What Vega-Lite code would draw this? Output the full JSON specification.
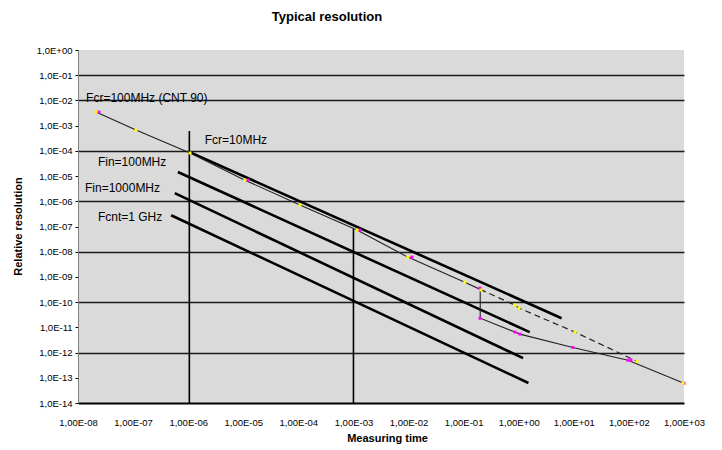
{
  "$schema": "https://vega.github.io/schema/vega-lite/v6.json",
  "width": 606,
  "height": 353,
  "autosize": "none",
  "padding": {"left": 78, "top": 50, "right": 38, "bottom": 47},
  "background": "white",
  "config": {
    "view": {"fill": "#dadada", "stroke": null},
    "font": "Liberation Sans"
  },
  "title": {
    "text": "Typical resolution",
    "fontSize": 13,
    "fontWeight": "bold",
    "font": "Liberation Sans",
    "color": "#000000",
    "anchor": "middle",
    "frame": "group",
    "dx": -54,
    "offset": 21
  },
  "datasets": {
    "lines": [
      {"series": "A", "i": 0, "t": 1.07e-6, "r": 8.9e-5},
      {"series": "A", "i": 1, "t": 6.0, "r": 2.3e-11},
      {"series": "B", "i": 0, "t": 6.5e-7, "r": 1.45e-5},
      {"series": "B", "i": 1, "t": 1.58, "r": 6.5e-12},
      {"series": "C", "i": 0, "t": 5.7e-7, "r": 2.1e-6},
      {"series": "C", "i": 1, "t": 1.2, "r": 6.0e-13},
      {"series": "D", "i": 0, "t": 4.9e-7, "r": 2.8e-7},
      {"series": "D", "i": 1, "t": 1.5, "r": 6.2e-14},
      {"series": "main", "i": 0, "t": 2.12e-8, "r": 3.47e-3},
      {"series": "main", "i": 1, "t": 1.13e-7, "r": 6.7e-4},
      {"series": "main", "i": 2, "t": 1.08e-6, "r": 8.2e-5},
      {"series": "main", "i": 3, "t": 1.07e-5, "r": 6.9e-6},
      {"series": "main", "i": 4, "t": 1.07e-4, "r": 7.1e-7},
      {"series": "main", "i": 5, "t": 1.16e-3, "r": 7.2e-8},
      {"series": "main", "i": 6, "t": 9.7e-3, "r": 6.1e-9},
      {"series": "main", "i": 7, "t": 0.105, "r": 6.2e-10},
      {"series": "main", "i": 8, "t": 0.2, "r": 3.2e-10},
      {"series": "main", "i": 9, "t": 0.2, "r": 2.3e-11},
      {"series": "main", "i": 10, "t": 0.853, "r": 6.5e-12},
      {"series": "main", "i": 11, "t": 1.05, "r": 5.4e-12},
      {"series": "main", "i": 12, "t": 9.6, "r": 1.6e-12},
      {"series": "main", "i": 13, "t": 96, "r": 5.0e-13},
      {"series": "main", "i": 14, "t": 1000, "r": 6.1e-14},
      {"series": "upper", "i": 0, "t": 0.2, "r": 3.2e-10},
      {"series": "upper", "i": 1, "t": 0.853, "r": 7.6e-11},
      {"series": "upper", "i": 2, "t": 1.01, "r": 5.8e-11},
      {"series": "upper", "i": 3, "t": 10.5, "r": 6.5e-12},
      {"series": "upper", "i": 4, "t": 140, "r": 4.5e-13},
      {"series": "V1", "i": 0, "t": 1.05e-6, "r": 6.1e-4},
      {"series": "V1", "i": 1, "t": 1.05e-6, "r": 1e-14},
      {"series": "V2", "i": 0, "t": 1e-3, "r": 8e-8},
      {"series": "V2", "i": 1, "t": 1e-3, "r": 1e-14}
    ],
    "markers": [
      {"series": "lower", "t": 2.4e-8, "r": 3.47e-3},
      {"series": "lower", "t": 1.22e-5, "r": 6.9e-6},
      {"series": "lower", "t": 1.31e-3, "r": 7.2e-8},
      {"series": "lower", "t": 1.15e-2, "r": 6.1e-9},
      {"series": "lower", "t": 0.198, "r": 3.6e-10},
      {"series": "lower", "t": 0.198, "r": 2.3e-11},
      {"series": "lower", "t": 0.853, "r": 6.5e-12},
      {"series": "lower", "t": 1.05, "r": 5.4e-12},
      {"series": "lower", "t": 9.6, "r": 1.6e-12},
      {"series": "lower", "t": 96, "r": 5.0e-13},
      {"series": "lower", "t": 109, "r": 5.0e-13},
      {"series": "lower", "t": 1000, "r": 6.1e-14},
      {"series": "upper", "t": 2.12e-8, "r": 3.47e-3},
      {"series": "upper", "t": 1.13e-7, "r": 6.7e-4},
      {"series": "upper", "t": 1.08e-6, "r": 8.2e-5},
      {"series": "upper", "t": 1.07e-5, "r": 6.9e-6},
      {"series": "upper", "t": 1.07e-4, "r": 7.1e-7},
      {"series": "upper", "t": 1.16e-3, "r": 7.2e-8},
      {"series": "upper", "t": 9.7e-3, "r": 6.1e-9},
      {"series": "upper", "t": 0.105, "r": 6.2e-10},
      {"series": "upper", "t": 0.206, "r": 3.0e-10},
      {"series": "upper", "t": 0.853, "r": 7.6e-11},
      {"series": "upper", "t": 1.01, "r": 5.8e-11},
      {"series": "upper", "t": 10.5, "r": 6.5e-12},
      {"series": "upper", "t": 140, "r": 4.5e-13},
      {"series": "upper", "t": 960, "r": 6.1e-14}
    ],
    "labels": [
      {"t": 1.4e-8, "r": 1.2e-2, "label": "Fcr=100MHz (CNT 90)"},
      {"t": 2.0e-6, "r": 2.7e-4, "label": "Fcr=10MHz"},
      {"t": 2.3e-8, "r": 3.6e-5, "label": "Fin=100MHz"},
      {"t": 1.34e-8, "r": 3.4e-6, "label": "Fin=1000MHz"},
      {"t": 2.3e-8, "r": 2.4e-7, "label": "Fcnt=1 GHz"}
    ]
  },
  "encoding": {
    "x": {
      "field": "t",
      "type": "quantitative",
      "scale": {"type": "log", "domain": [1e-8, 1000], "nice": false},
      "axis": {
        "title": "Measuring time",
        "titleFont": "Liberation Sans",
        "titleFontSize": 11,
        "titleFontWeight": "bold",
        "titleColor": "#000000",
        "titleX": 309,
        "titleY": 35,
        "titleBaseline": "middle",
        "titleAlign": "center",
        "values": [1e-8, 1e-7, 1e-6, 1e-5, 1e-4, 1e-3, 1e-2, 1e-1, 1, 10, 100, 1000],
        "labelExpr": "'1,00E' + (datum.value >= 1 ? '+' : '-') + (abs(round(log(datum.value)/LN10)) < 10 ? '0' : '') + abs(round(log(datum.value)/LN10))",
        "labelFontSize": 9.5,
        "labelColor": "#000000",
        "labelPadding": 14,
        "labelOverlap": false,
        "labelFlush": false,
        "ticks": false,
        "tickSize": 0,
        "grid": false,
        "domainColor": "#000000",
        "domainWidth": 2
      }
    },
    "y": {
      "field": "r",
      "type": "quantitative",
      "scale": {"type": "log", "domain": [1e-14, 1], "nice": false},
      "axis": {
        "title": "Relative resolution",
        "titleFont": "Liberation Sans",
        "titleFontSize": 11,
        "titleFontWeight": "bold",
        "titleColor": "#000000",
        "titleX": -60,
        "titleY": 176,
        "titleAngle": -90,
        "titleBaseline": "middle",
        "titleAlign": "center",
        "values": [1, 0.1, 0.01, 0.001, 1e-4, 1e-5, 1e-6, 1e-7, 1e-8, 1e-9, 1e-10, 1e-11, 1e-12, 1e-13, 1e-14],
        "labelExpr": "'1,0E' + (datum.value >= 1 ? '+' : '-') + (abs(round(log(datum.value)/LN10)) < 10 ? '0' : '') + abs(round(log(datum.value)/LN10))",
        "labelFontSize": 9.5,
        "labelColor": "#000000",
        "labelPadding": 3,
        "labelOverlap": false,
        "labelFlush": false,
        "ticks": true,
        "tickSize": 3,
        "tickColor": "#000000",
        "grid": true,
        "gridColor": "#1a1a1a",
        "gridWidth": 1.5,
        "gridOpacity": {"condition": {"test": "indexof([-1, -2, -4, -6, -8, -10, -12], round(log(datum.value)/LN10)) >= 0", "value": 1}, "value": 0},
        "domainColor": "#808080",
        "domainWidth": 1
      }
    }
  },
  "layer": [
    {
      "data": {"name": "lines"},
      "transform": [{"filter": "indexof(['A','B','C','D'], datum.series) >= 0"}],
      "mark": {"type": "line", "color": "#000000", "strokeWidth": 2.6},
      "encoding": {"detail": {"field": "series"}, "order": {"field": "i"}}
    },
    {
      "data": {"name": "lines"},
      "transform": [{"filter": "indexof(['V1','V2'], datum.series) >= 0"}],
      "mark": {"type": "line", "color": "#000000", "strokeWidth": 1.6},
      "encoding": {"detail": {"field": "series"}, "order": {"field": "i"}}
    },
    {
      "data": {"name": "lines"},
      "transform": [{"filter": "datum.series == 'main'"}],
      "mark": {"type": "line", "color": "#222222", "strokeWidth": 1.1},
      "encoding": {"order": {"field": "i"}}
    },
    {
      "data": {"name": "lines"},
      "transform": [{"filter": "datum.series == 'upper'"}],
      "mark": {"type": "line", "color": "#222222", "strokeWidth": 1.2, "strokeDash": [6, 4]},
      "encoding": {"order": {"field": "i"}}
    },
    {
      "data": {"name": "markers"},
      "mark": {"type": "square", "size": 9, "opacity": 1},
      "encoding": {
        "color": {"field": "series", "type": "nominal", "scale": {"domain": ["upper", "lower"], "range": ["#ffff00", "#ff00ff"]}, "legend": null}
      }
    },
    {
      "data": {"name": "labels"},
      "mark": {"type": "text", "align": "left", "baseline": "middle", "fontSize": 12, "font": "Liberation Sans", "color": "#000000"},
      "encoding": {"text": {"field": "label"}}
    }
  ]
}
